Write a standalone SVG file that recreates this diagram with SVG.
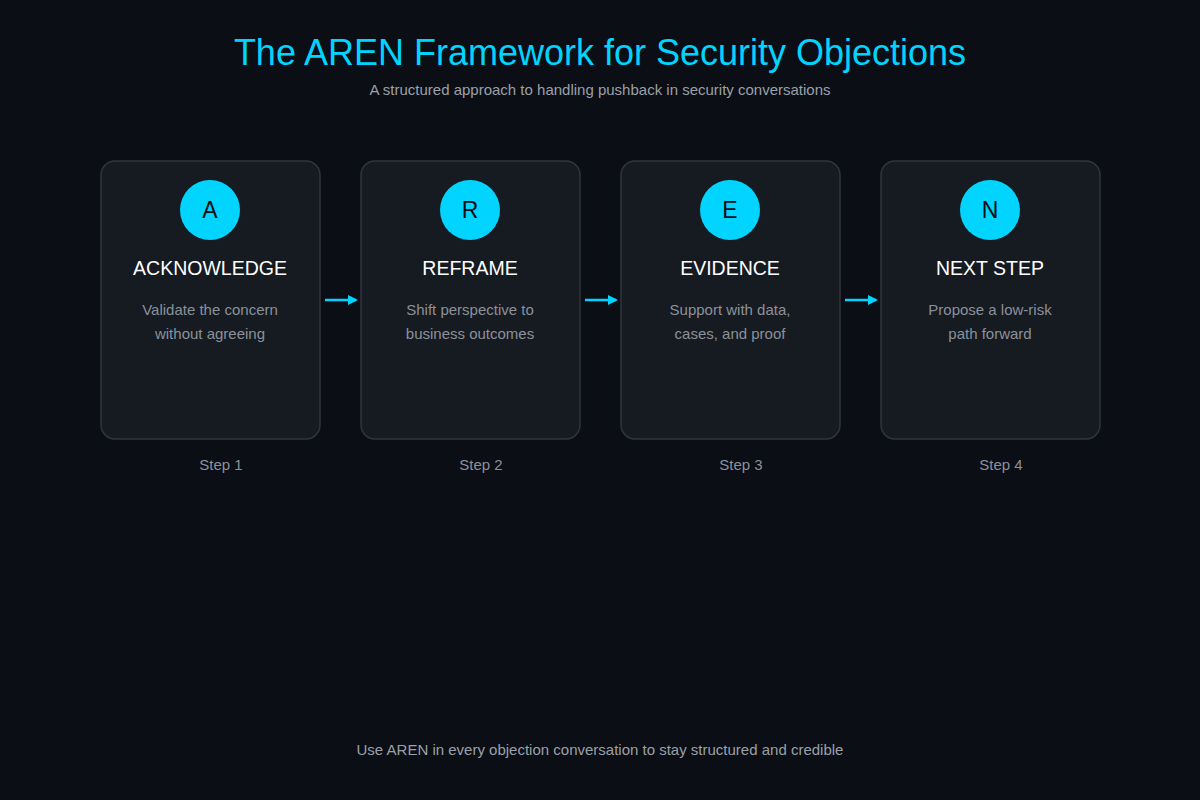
<svg xmlns="http://www.w3.org/2000/svg" width="1200" height="800" viewBox="0 0 1200 800">
<defs>
<style>
text{font-family:"Liberation Sans",Arial,sans-serif;text-anchor:middle}
.card{fill:#161a21;stroke:#30353d;stroke-width:1.5}
.circ{fill:#00d4ff}
.let{font-size:23px;fill:#0b0e14}
.ttl{font-size:19.5px;fill:#ffffff}
.desc{font-size:15px;fill:#8b919a}
.step{font-size:15px;fill:#8b919a}
.conn{stroke:#00d4ff;stroke-width:2.5;fill:none}
</style>
<marker id="ah" markerWidth="10" markerHeight="10" refX="8" refY="5" orient="auto" markerUnits="userSpaceOnUse"><path d="M0,0 L10,5 L0,10 z" fill="#00d4ff"/></marker>
</defs>
<rect width="1200" height="800" fill="#0b0e15"/>
<text x="600" y="65" style="font-size:36px;fill:#00d4ff">The AREN Framework for Security Objections</text>
<text x="600" y="95" style="font-size:15px;fill:#9aa0a8">A structured approach to handling pushback in security conversations</text>
<g id="n1"><rect class="card" x="101" y="161" width="219" height="278" rx="14"/><circle class="circ" cx="210" cy="210" r="30"/><text class="let" x="210" y="218">A</text><text class="ttl" x="210" y="275">ACKNOWLEDGE</text><text class="desc" x="210" y="315">Validate the concern</text><text class="desc" x="210" y="339">without agreeing</text><text class="step" x="221" y="470">Step 1</text></g>
<g id="n2"><rect class="card" x="361" y="161" width="219" height="278" rx="14"/><circle class="circ" cx="470" cy="210" r="30"/><text class="let" x="470" y="218">R</text><text class="ttl" x="470" y="275">REFRAME</text><text class="desc" x="470" y="315">Shift perspective to</text><text class="desc" x="470" y="339">business outcomes</text><text class="step" x="481" y="470">Step 2</text></g>
<g id="n3"><rect class="card" x="621" y="161" width="219" height="278" rx="14"/><circle class="circ" cx="730" cy="210" r="30"/><text class="let" x="730" y="218">E</text><text class="ttl" x="730" y="275">EVIDENCE</text><text class="desc" x="730" y="315">Support with data,</text><text class="desc" x="730" y="339">cases, and proof</text><text class="step" x="741" y="470">Step 3</text></g>
<g id="n4"><rect class="card" x="881" y="161" width="219" height="278" rx="14"/><circle class="circ" cx="990" cy="210" r="30"/><text class="let" x="990" y="218">N</text><text class="ttl" x="990" y="275">NEXT STEP</text><text class="desc" x="990" y="315">Propose a low-risk</text><text class="desc" x="990" y="339">path forward</text><text class="step" x="1001" y="470">Step 4</text></g>
<g id="connectors">
<line class="conn" x1="325" y1="300" x2="356" y2="300" marker-end="url(#ah)"/>
<line class="conn" x1="585" y1="300" x2="616" y2="300" marker-end="url(#ah)"/>
<line class="conn" x1="845" y1="300" x2="876" y2="300" marker-end="url(#ah)"/>
</g>
<text x="600" y="755" style="font-size:15px;fill:#9aa0a8">Use AREN in every objection conversation to stay structured and credible</text>
</svg>
